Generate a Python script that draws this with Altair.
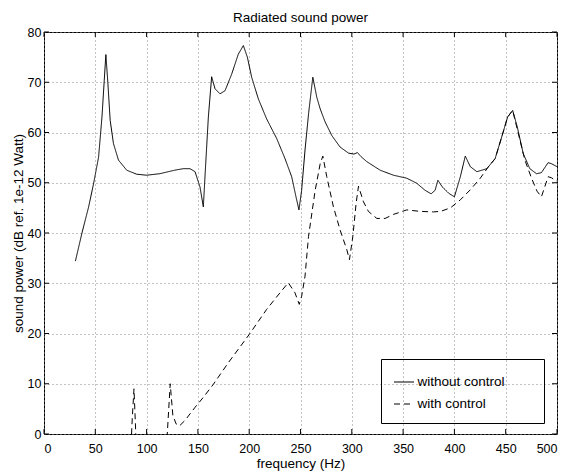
import altair as alt
import pandas as pd

# "without control" curve: frequency (Hz) / sound power (dB)
f_without = [30.6, 37.0, 43.5, 48.4, 53.2, 56.5, 58.7, 60.3, 62.3, 64.5, 67.7, 72.6,
             80.6, 90.3, 100.0, 112.9, 127.4, 135.8, 142.3, 147.2, 152.0, 155.3,
             156.9, 160.2, 163.4, 166.7, 171.5, 176.4, 182.9, 189.4, 194.3, 198.2,
             202.4, 208.9, 217.0, 226.8, 234.9, 241.4, 245.6, 248.5, 251.1, 254.4,
             258.0, 262.0, 265.9, 269.2, 274.0, 280.5, 288.6, 296.8, 302.0, 305.5,
             309.0, 314.6, 327.6, 340.6, 353.6, 363.3, 371.4, 377.3, 381.2, 383.9,
             388.1, 394.5, 400.0, 405.8, 410.6, 415.5, 421.9, 431.6, 439.7, 446.1,
             451.9, 456.8, 461.3, 467.1, 473.5, 480.0, 484.8, 491.3, 494.5, 500.0]
p_without = [34.4, 40.0, 45.2, 49.9, 55.1, 63.1, 70.3, 75.5, 69.7, 62.4, 57.8, 54.5,
             52.5, 51.7, 51.5, 51.8, 52.5, 52.8, 52.8, 52.2, 49.2, 45.2,
             51.2, 63.1, 71.1, 68.7, 67.7, 68.3, 71.6, 75.6, 77.3, 75.0,
             71.0, 66.7, 62.7, 58.8, 54.8, 51.2, 47.2, 44.6, 48.5, 56.5,
             64.0, 71.0, 67.0, 64.7, 62.1, 59.4, 57.1, 55.9, 55.7, 56.0,
             55.2, 54.2, 52.5, 51.5, 50.9, 49.9, 48.5, 47.8, 48.5, 50.5,
             49.2, 47.9, 47.2, 51.2, 55.3, 53.2, 52.2, 52.8, 54.8, 59.1,
             63.1, 64.4, 61.1, 55.8, 52.8, 51.8, 52.0, 54.0, 53.8, 53.2]

# "with control" curve (values below 0 dB are clipped by the axes)
f_with = [84.0, 86.0, 87.7, 89.0, 90.5, 105.0, 119.0, 123.0, 125.6, 128.8, 132.0,
          137.4, 147.2, 155.3, 165.1, 179.7, 200.0, 217.0, 230.0, 238.1, 244.6,
          248.8, 251.1, 254.4, 257.8, 264.3, 269.2, 271.8, 275.6, 282.1, 288.6,
          295.1, 297.7, 301.0, 304.2, 306.5, 311.4, 316.2, 324.4, 332.5, 340.6,
          353.6, 366.6, 379.6, 386.5, 396.1, 405.8, 415.5, 425.2, 433.2, 439.7,
          446.1, 451.9, 456.8, 462.3, 468.7, 475.2, 480.6, 484.8, 488.1, 491.3,
          494.5, 500.0]
p_with = [-6.0, 3.0, 9.0, 2.5, -6.0, -30.0, -4.0, 10.0, 3.7, 2.0, 1.6,
          2.7, 5.3, 7.3, 9.9, 14.2, 19.8, 24.8, 28.1, 30.1, 28.1,
          25.8, 27.4, 31.4, 39.3, 48.5, 53.8, 55.3, 51.2, 45.2, 40.6,
          36.7, 34.7, 39.3, 45.9, 49.3, 46.2, 44.3, 42.9, 42.9, 43.7,
          44.6, 44.3, 44.2, 44.3, 45.0, 46.6, 48.6, 50.9, 53.2, 54.8,
          59.1, 63.1, 64.4, 59.8, 54.5, 50.9, 48.3, 47.2, 49.2, 51.2,
          51.0, 50.3]

series_names = ["without control", "with control"]
x_ticks = [0, 50, 100, 150, 200, 250, 300, 350, 400, 450, 500]
y_ticks = [0, 10, 20, 30, 40, 50, 60, 70, 80]

df = pd.concat([
    pd.DataFrame({"f": f_without, "p": p_without, "series": series_names[0]}),
    pd.DataFrame({"f": f_with, "p": p_with, "series": series_names[1]}),
])
xt = pd.DataFrame({"t": x_ticks})
yt = pd.DataFrame({"t": y_ticks})

W, H = 513, 402
FONT = "Liberation Sans"

xscale = alt.Scale(domain=[0, 500], nice=False, zero=False)
yscale = alt.Scale(domain=[0, 80], nice=False)

# invisible trailing room so the legend box is as wide as the reference's
pad_tail = "\u00a0" * 7 + "\u200b"

lines = alt.Chart(df).mark_line(clip=True, strokeWidth=1, color="black").encode(
    x=alt.X("f:Q", scale=xscale,
            axis=alt.Axis(values=x_ticks, title="frequency (Hz)", labelPadding=8,
                          titleY=33, titleBaseline="alphabetic")),
    y=alt.Y("p:Q", scale=yscale,
            axis=alt.Axis(values=y_ticks, title="sound power (dB ref. 1e-12 Watt)",
                          labelPadding=3, titleX=-22, titleBaseline="alphabetic")),
    strokeDash=alt.StrokeDash(
        "series:N",
        scale=alt.Scale(domain=series_names, range=[[1, 0], [6, 4]]),
        legend=alt.Legend(
            title=None, orient="none", legendX=337, legendY=327, padding=12.5,
            symbolType="stroke", symbolSize=400, symbolStrokeWidth=1,
            symbolStrokeColor="black", labelFont=FONT, labelFontSize=13.5,
            labelColor="black", labelOffset=3, rowPadding=5, labelLimit=400,
            strokeColor="black",
            labelExpr="datum.label + '" + pad_tail + "'",
        ),
    ),
)

tick_len = 5
bottom_ticks = alt.Chart(xt).mark_rule(color="black", strokeWidth=1).encode(
    x=alt.X("t:Q", scale=xscale), y=alt.value(H), y2=alt.value(H - tick_len))
top_ticks = alt.Chart(xt).mark_rule(color="black", strokeWidth=1).encode(
    x=alt.X("t:Q", scale=xscale), y=alt.value(0), y2=alt.value(tick_len))
left_ticks = alt.Chart(yt).mark_rule(color="black", strokeWidth=1).encode(
    y=alt.Y("t:Q", scale=yscale), x=alt.value(0), x2=alt.value(tick_len))
right_ticks = alt.Chart(yt).mark_rule(color="black", strokeWidth=1).encode(
    y=alt.Y("t:Q", scale=yscale), x=alt.value(W), x2=alt.value(W - tick_len))

chart = alt.layer(lines, bottom_ticks, top_ticks, left_ticks, right_ticks).properties(
    width=W, height=H,
    title=alt.TitleParams("Radiated sound power", font=FONT, fontSize=13.5,
                          fontWeight="normal", color="black", offset=2,
                          anchor="middle"),
    autosize=alt.AutoSizeParams(type="none"),
    padding={"left": 36, "top": 24, "right": 2, "bottom": 38},
).configure_view(
    stroke="black", strokeWidth=1
).configure_axis(
    domain=False, ticks=False, tickSize=0, grid=True, gridColor="#888",
    gridDash=[1, 3], gridWidth=1, gridOpacity=1,
    labelFont=FONT, labelFontSize=12.5, labelColor="black",
    titleFont=FONT, titleFontSize=13.5, titleFontWeight="normal", titleColor="black",
)

chart.save("out.html", embed_options={"renderer": "svg", "actions": False})
